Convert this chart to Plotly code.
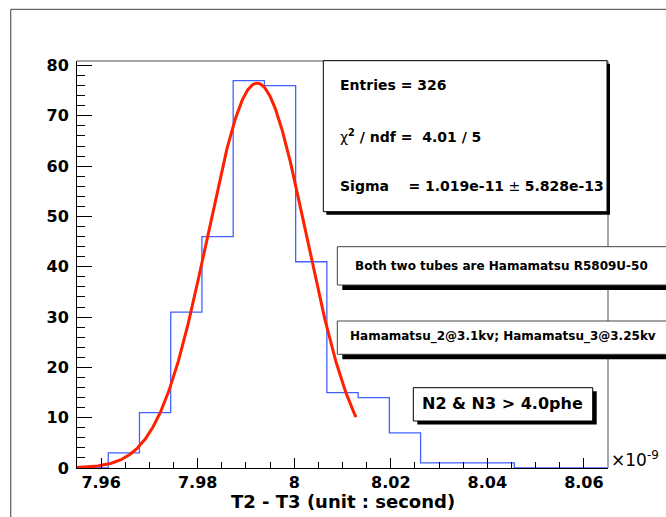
import numpy as np
import plotly.graph_objects as go

# ---------------- data ----------------
hist_low = 7.955          # x10^-9 s
hist_high = 8.065
counts = [0, 3, 11, 31, 46, 77, 76, 41, 15, 14, 7, 1, 1, 1, 0, 0, 0]

fit_constant = 76.5
fit_mean = 7.9923
fit_sigma = 0.01019
fit_range = [7.955, 8.0128]

x_ticks = [7.96, 7.98, 8.0, 8.02, 8.04, 8.06]
x_tick_labels = ["7.96", "7.98", "8", "8.02", "8.04", "8.06"]
y_ticks = [0, 10, 20, 30, 40, 50, 60, 70, 80]
y_tick_labels = ["0", "10", "20", "30", "40", "50", "60", "70", "80"]

stat_lines = [
    "<b>Entries = 326</b>",
    "χ<b><sup>2</sup> / ndf =\u00a0\u00a04.01 / 5</b>",
    "<b>Sigma\u00a0\u00a0\u00a0\u00a0= 1.019e-11</b> ± <b>5.828e-13</b>",
]
box_texts = [
    "Both two tubes are Hamamatsu R5809U-50",
    "Hamamatsu_2@3.1kv; Hamamatsu_3@3.25kv",
    "N2 & N3 > 4.0phe",
]
x_title = "T2 - T3 (unit : second)"

# ---------------- geometry helpers ----------------
W, H = 666, 517
L, R, T, B = 77, 608, 61, 468


def px(xp):
    return (xp - L) / (R - L)


def py(yp):
    return (B - yp) / (B - T)


edges = np.linspace(hist_low, hist_high, len(counts) + 1)
step_x = list(edges)
step_y = list(counts) + [counts[-1]]

fx = np.linspace(fit_range[0], fit_range[1], 400)
fy = fit_constant * np.exp(-0.5 * ((fx - fit_mean) / fit_sigma) ** 2)

fig = go.Figure()
fig.add_trace(go.Scatter(x=step_x, y=step_y, mode="lines", line_shape="hv",
                         line=dict(color="#4262ff", width=1.3), hoverinfo="skip"))
fig.add_trace(go.Scatter(x=fx, y=fy, mode="lines",
                         line=dict(color="#ff2000", width=3), hoverinfo="skip"))

font_family = "DejaVu Sans"
tick_font = dict(family=font_family, size=16, color="black", weight="bold")

fig.update_layout(
    width=W, height=H,
    margin=dict(l=L, r=W - R, t=T, b=H - B, pad=0),
    paper_bgcolor="white", plot_bgcolor="white",
    showlegend=False,
    xaxis=dict(range=[hist_low, hist_high], tickmode="array", tickvals=x_ticks,
               ticktext=x_tick_labels, ticks="inside", ticklen=10, tickwidth=1,
               tickcolor="black", showline=True, linecolor="black", linewidth=1,
               showgrid=False, zeroline=False, tickfont=tick_font,
               minor=dict(ticks="inside", ticklen=6, tickmode="linear",
                          tick0=7.96, dtick=0.005, tickcolor="black", showgrid=False)),
    yaxis=dict(range=[0, 80.9], tickmode="array", tickvals=y_ticks,
               ticktext=y_tick_labels, ticks="inside", ticklen=15, tickwidth=1,
               tickcolor="black", showline=True, linecolor="black", linewidth=1,
               showgrid=False, zeroline=False, tickfont=tick_font,
               ticklabelstandoff=4,
               minor=dict(ticks="inside", ticklen=8, tickmode="linear",
                          tick0=0, dtick=2, tickcolor="black", showgrid=False)),
)

shapes = []
# canvas frame
shapes.append(dict(type="line", xref="paper", yref="paper", x0=px(10.7), x1=px(670),
                   y0=py(9.3), y1=py(9.3), line=dict(color="#666666", width=1.3)))
shapes.append(dict(type="line", xref="paper", yref="paper", x0=px(10.7), x1=px(10.7),
                   y0=py(9.3), y1=py(520), line=dict(color="#666666", width=1.3)))
# axes frame (top/right, gray)
shapes.append(dict(type="line", xref="paper", yref="paper", x0=0, x1=1, y0=1, y1=1,
                   line=dict(color="#8a8a8a", width=1.5)))
shapes.append(dict(type="line", xref="paper", yref="paper", x0=1, x1=1, y0=0, y1=1,
                   line=dict(color="#8a8a8a", width=1.5)))


def box(x0, y0, x1, y1, sdx, sdy, border="black"):
    shapes.append(dict(type="rect", xref="paper", yref="paper",
                       x0=px(x0 + sdx), x1=px(x1 + sdx), y0=py(y0 + sdy), y1=py(y1 + sdy),
                       fillcolor="black", line=dict(width=0)))
    shapes.append(dict(type="rect", xref="paper", yref="paper",
                       x0=px(x0), x1=px(x1), y0=py(y0), y1=py(y1),
                       fillcolor="white", line=dict(color=border, width=1)))


box(323.3, 60.7, 607.0, 211.7, 3, 3)
box(337.3, 246.7, 668, 285, 5, 5, border="#444444")
box(337.3, 321, 668, 354.3, 5, 5, border="#444444")
box(413.3, 387.7, 592.7, 421, 4, 3.5)

fig.update_layout(shapes=shapes)

ann = []
stat_y = [84.7, 136, 185.8]
for t, yy in zip(stat_lines, stat_y):
    ann.append(dict(text=t, xref="paper", yref="paper", x=px(337.5), y=py(yy),
                    xanchor="left", yanchor="middle", showarrow=False,
                    font=dict(family=font_family, size=14, color="black")))
ann.append(dict(text=box_texts[0], xref="paper", yref="paper", x=px(501.5), y=py(266),
                xanchor="center", yanchor="middle", showarrow=False,
                font=dict(family=font_family, size=12, color="black", weight="bold")))
ann.append(dict(text=box_texts[1], xref="paper", yref="paper", x=px(502.5), y=py(336.7),
                xanchor="center", yanchor="middle", showarrow=False,
                font=dict(family=font_family, size=12, color="black", weight="bold")))
ann.append(dict(text=box_texts[2], xref="paper", yref="paper", x=px(502.5), y=py(403),
                xanchor="center", yanchor="middle", showarrow=False,
                font=dict(family=font_family, size=16, color="black", weight="bold")))
ann.append(dict(text=x_title, xref="paper", yref="paper", x=px(343.3), y=py(501.5),
                xanchor="center", yanchor="middle", showarrow=False,
                font=dict(family=font_family, size=18, color="black", weight="bold")))
ann.append(dict(text="×10<sup>-9</sup>", xref="paper", yref="paper", x=px(609), y=py(472),
                xanchor="left", yanchor="bottom", showarrow=False,
                font=dict(family=font_family, size=17, color="black")))
fig.update_layout(annotations=ann)

fig.write_html(
    "out.html",
    config={"displayModeBar": False},
    post_script="document.body.style.margin='0';document.body.style.overflow='hidden';",
)
